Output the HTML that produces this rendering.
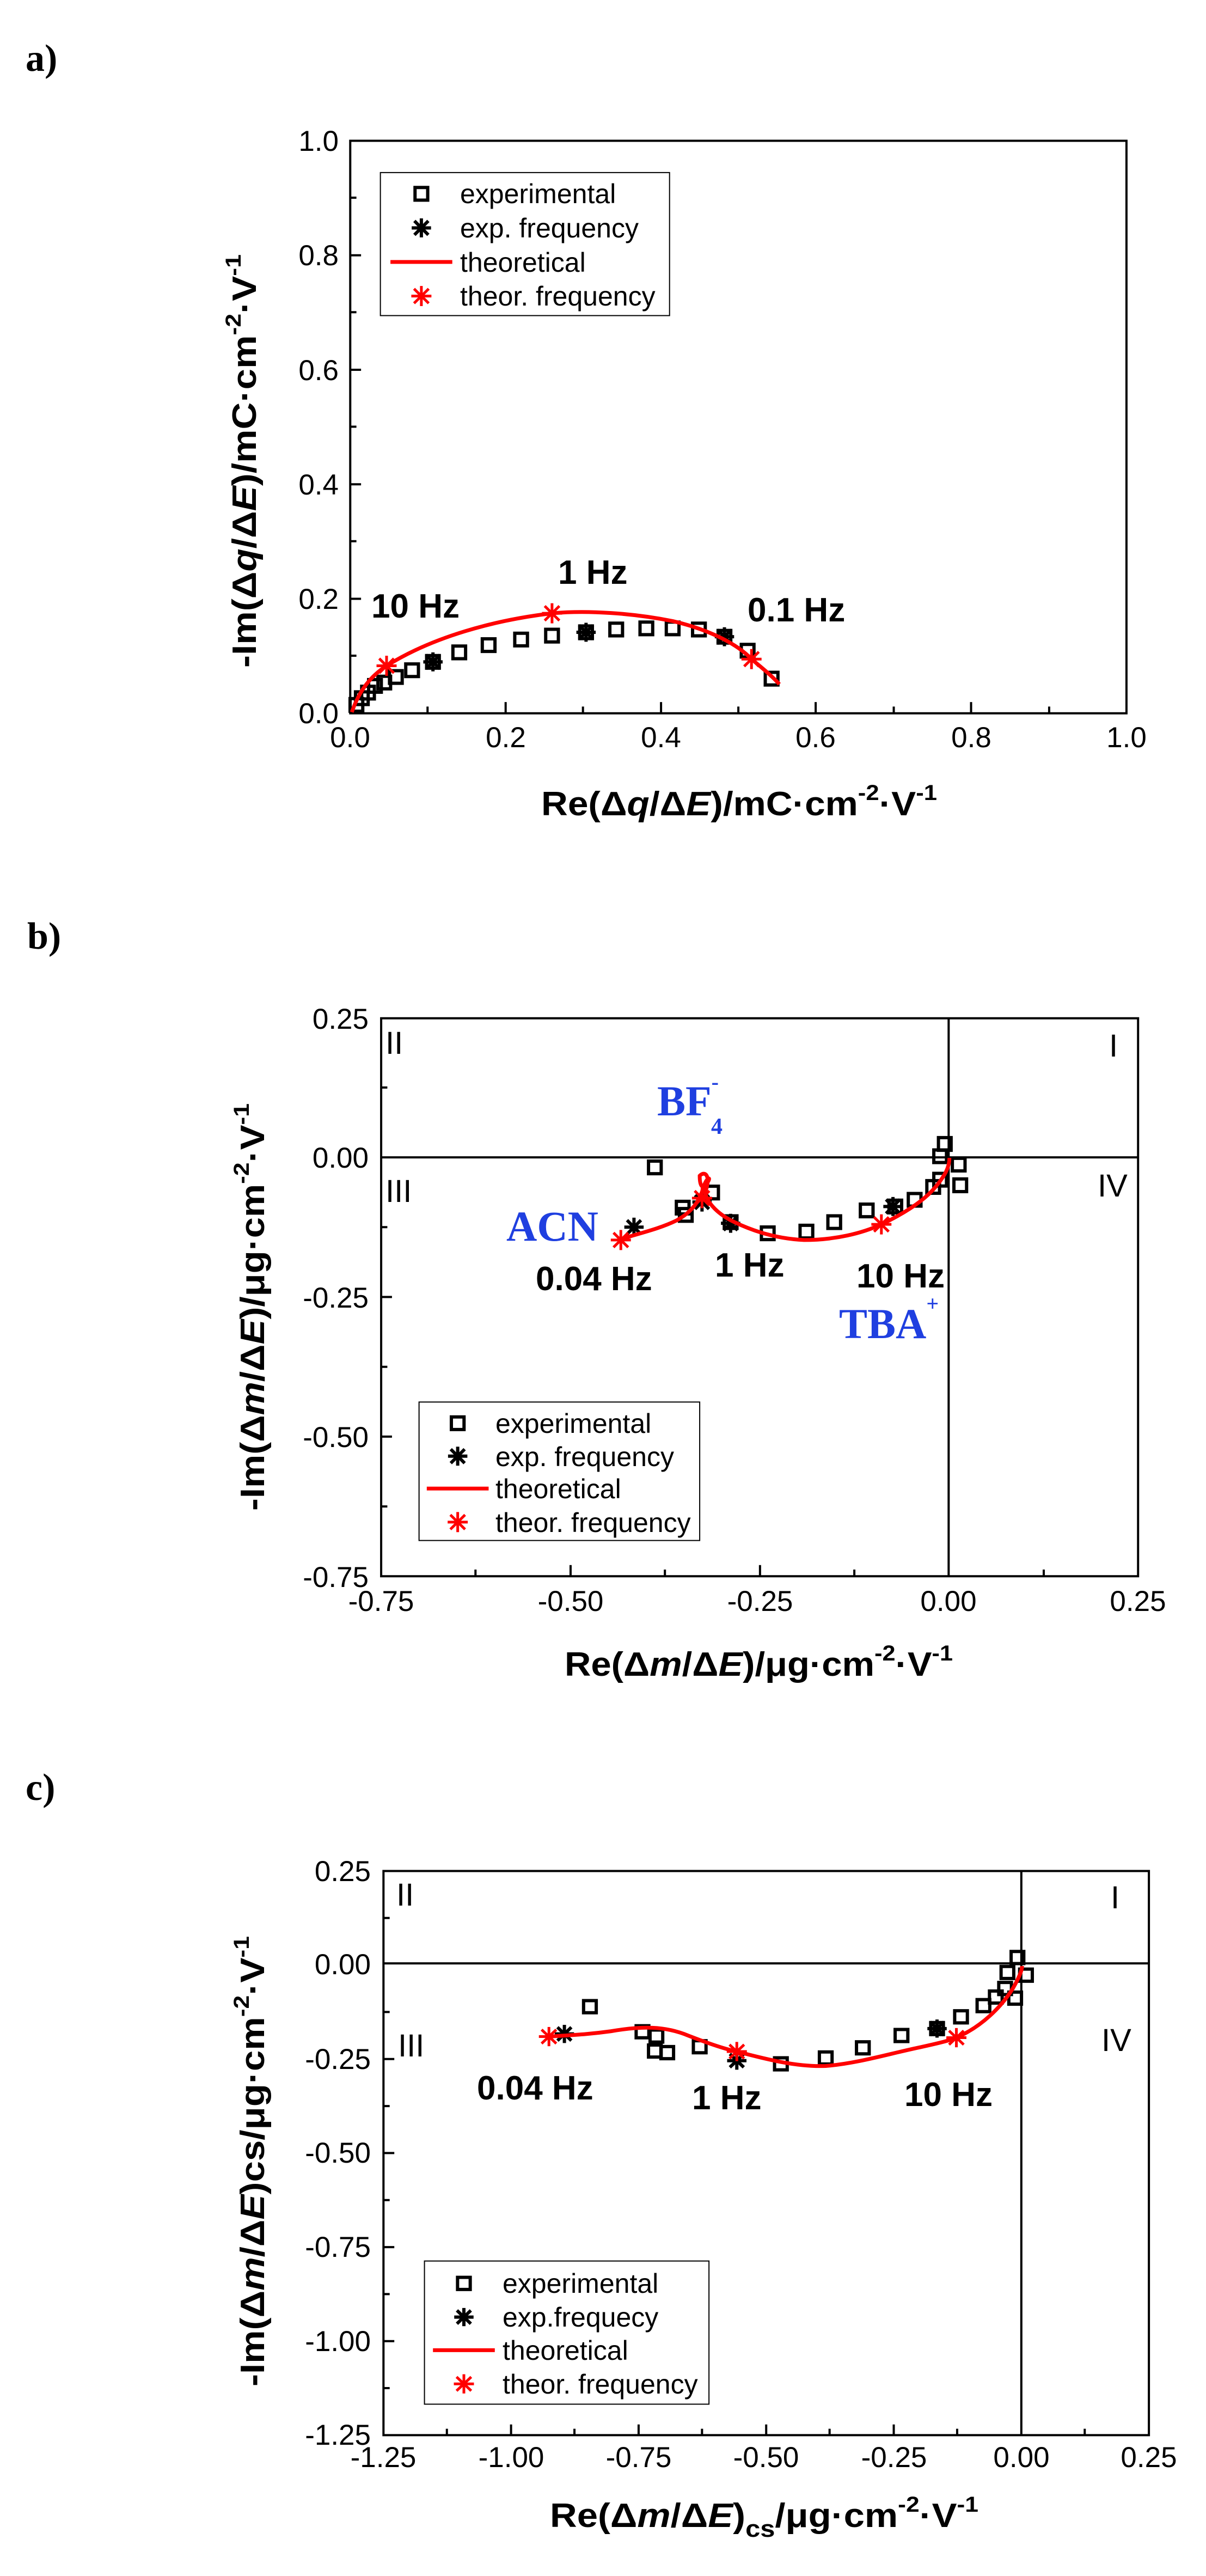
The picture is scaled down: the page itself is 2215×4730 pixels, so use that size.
<!DOCTYPE html>
<html><head><meta charset="utf-8"><style>html,body{margin:0;padding:0;background:#fff;overflow:hidden}svg{display:block}</style></head>
<body>
<svg xmlns="http://www.w3.org/2000/svg" width="2215" height="4730" viewBox="0 0 2215 4730" font-family="Liberation Sans, sans-serif">
<defs>
<g id="sq"><rect x="-8.2" y="-11.3" width="16.4" height="22.6" fill="none" stroke="#000" stroke-width="6" vector-effect="non-scaling-stroke"/></g>
<g id="ak" stroke="#000" stroke-width="6"><line x1="-12.5" y1="0" x2="12.5" y2="0" vector-effect="non-scaling-stroke"/><line x1="0" y1="-17" x2="0" y2="17" vector-effect="non-scaling-stroke"/><line x1="-9" y1="-12.5" x2="9" y2="12.5" vector-effect="non-scaling-stroke"/><line x1="-9" y1="12.5" x2="9" y2="-12.5" vector-effect="non-scaling-stroke"/></g>
<g id="rk" stroke="#f00" stroke-width="5"><line x1="-13" y1="0" x2="13" y2="0" vector-effect="non-scaling-stroke"/><line x1="0" y1="-18" x2="0" y2="18" vector-effect="non-scaling-stroke"/><line x1="-9.5" y1="-13" x2="9.5" y2="13" vector-effect="non-scaling-stroke"/><line x1="-9.5" y1="13" x2="9.5" y2="-13" vector-effect="non-scaling-stroke"/></g>
</defs>
<rect width="2215" height="4730" fill="#fff"/>

<!-- ===== Panel a shapes ===== -->
<g transform="scale(1.42,1.0256)">
<rect x="453" y="252" width="1004" height="1025" fill="none" stroke="#000" stroke-width="4" vector-effect="non-scaling-stroke"/>
<path vector-effect="non-scaling-stroke" stroke="#000" stroke-width="4" d="M654,1277V1257M855,1277V1257M1055,1277V1257M1256,1277V1257M553,1277V1265M754,1277V1265M955,1277V1265M1156,1277V1265M1357,1277V1265M453,457H467M453,662H467M453,867H467M453,1072H467M453,354H461M453,559H461M453,764H461M453,969H461M453,1174H461"/>
<rect x="492" y="309" width="374" height="256" fill="#fff" stroke="#000" stroke-width="2" vector-effect="non-scaling-stroke"/>
<use href="#sq" x="545" y="347"/><use href="#ak" x="545" y="408"/><line x1="505" y1="469" x2="585" y2="469" stroke="#f00" stroke-width="7" vector-effect="non-scaling-stroke"/><use href="#rk" x="545" y="530"/>
<use href="#sq" x="461" y="1262"/><use href="#sq" x="468" y="1250"/><use href="#sq" x="476" y="1240"/><use href="#sq" x="485" y="1228"/><use href="#sq" x="497" y="1222"/><use href="#sq" x="512" y="1212"/><use href="#sq" x="533" y="1200"/><use href="#sq" x="560" y="1185"/><use href="#sq" x="594" y="1168"/><use href="#sq" x="632" y="1155"/><use href="#sq" x="674" y="1145"/><use href="#sq" x="714" y="1138"/><use href="#sq" x="758" y="1132"/><use href="#sq" x="797" y="1127"/><use href="#sq" x="836" y="1125"/><use href="#sq" x="870" y="1125"/><use href="#sq" x="904" y="1127"/><use href="#sq" x="937" y="1140"/><use href="#sq" x="967" y="1165"/><use href="#sq" x="998" y="1215"/>
<use href="#ak" x="560" y="1185"/><use href="#ak" x="758" y="1132"/><use href="#ak" x="937" y="1140"/>
<path d="M455,1275 C465,1235 480,1210 500,1192 C560,1140 640,1110 714,1098 C760,1092 820,1098 870,1112 C920,1128 955,1155 972,1180 C985,1195 1000,1212 1008,1225" fill="none" stroke="#f00" stroke-width="7" vector-effect="non-scaling-stroke"/>
<use href="#rk" x="500" y="1192"/><use href="#rk" x="714" y="1098"/><use href="#rk" x="972" y="1180"/>
</g>
<!-- Panel a text -->
<text x="47" y="130" font-family="Liberation Serif, serif" font-weight="bold" font-size="70">a)</text>
<g font-size="53" text-anchor="middle">
<text x="643" y="1372">0.0</text><text x="929" y="1372">0.2</text><text x="1214" y="1372">0.4</text><text x="1498" y="1372">0.6</text><text x="1784" y="1372">0.8</text><text x="2069" y="1372">1.0</text>
</g>
<g font-size="53" text-anchor="end">
<text x="622" y="277">1.0</text><text x="622" y="487">0.8</text><text x="622" y="698">0.6</text><text x="622" y="908">0.4</text><text x="622" y="1118">0.2</text><text x="622" y="1328">0.0</text>
</g>
<text x="994" y="1497" font-size="62" font-weight="bold" textLength="727" lengthAdjust="spacingAndGlyphs">Re(Δ<tspan font-style="italic">q</tspan>/Δ<tspan font-style="italic">E</tspan>)/mC·cm<tspan font-size="40" dy="-28">-2</tspan><tspan dy="28">·V</tspan><tspan font-size="40" dy="-28">-1</tspan></text>
<text transform="translate(470,1226) rotate(-90)" font-size="62" font-weight="bold" textLength="759" lengthAdjust="spacingAndGlyphs">-Im(Δ<tspan font-style="italic">q</tspan>/Δ<tspan font-style="italic">E</tspan>)/mC·cm<tspan font-size="40" dy="-28">-2</tspan><tspan dy="28">·V</tspan><tspan font-size="40" dy="-28">-1</tspan></text>
<g font-size="50"><text x="845" y="373">experimental</text><text x="845" y="436">exp. frequency</text><text x="845" y="499">theoretical</text><text x="845" y="561">theor. frequency</text></g>
<g font-size="62" font-weight="bold"><text x="682" y="1134">10 Hz</text><text x="1025" y="1072">1 Hz</text><text x="1373" y="1141">0.1 Hz</text></g>

<!-- ===== Panel b shapes ===== -->
<g transform="translate(0,1600) scale(1.42,1.0256)">
<rect x="493" y="263" width="979" height="999" fill="none" stroke="#000" stroke-width="4" vector-effect="non-scaling-stroke"/>
<path vector-effect="non-scaling-stroke" stroke="#000" stroke-width="4" d="M1227,263V1262M493,512H1472M738,1262V1242M983,1262V1242M615,1262V1250M860,1262V1250M1105,1262V1250M1350,1262V1250M493,762H507M493,1012H507M493,387H501M493,637H501M493,887H501M493,1137H501"/>
<rect x="542" y="950" width="363" height="248" fill="#fff" stroke="#000" stroke-width="2" vector-effect="non-scaling-stroke"/>
<use href="#sq" x="592" y="988"/><use href="#ak" x="592" y="1047"/><line x1="552" y1="1105" x2="632" y2="1105" stroke="#f00" stroke-width="7" vector-effect="non-scaling-stroke"/><use href="#rk" x="592" y="1165"/>
<use href="#sq" x="847" y="530"/><use href="#sq" x="883" y="602"/><use href="#sq" x="887" y="615"/><use href="#sq" x="921" y="575"/><use href="#sq" x="945" y="628"/><use href="#sq" x="993" y="648"/><use href="#sq" x="1043" y="645"/><use href="#sq" x="1079" y="628"/><use href="#sq" x="1121" y="607"/><use href="#sq" x="1158" y="600"/><use href="#sq" x="1183" y="588"/><use href="#sq" x="1207" y="565"/><use href="#sq" x="1216" y="552"/><use href="#sq" x="1216" y="510"/><use href="#sq" x="1222" y="488"/><use href="#sq" x="1240" y="525"/><use href="#sq" x="1242" y="562"/>
<use href="#ak" x="820" y="637"/><use href="#ak" x="945" y="630"/><use href="#ak" x="1155" y="600"/><use href="#ak" x="908" y="592"/>
<path d="M800,660 C820,650 850,642 875,625 C895,610 905,590 910,565 C913,550 920,545 916,555 C908,575 905,560 905,545 C912,535 920,545 912,575 C915,595 930,615 950,628 C980,648 1010,658 1040,660 C1080,660 1115,648 1140,632 C1170,612 1195,590 1210,565 C1222,545 1228,530 1228,513" fill="none" stroke="#f00" stroke-width="7" vector-effect="non-scaling-stroke"/>
<use href="#rk" x="803" y="660"/><use href="#rk" x="908" y="585"/><use href="#rk" x="1140" y="632"/>
</g>
<!-- Panel b text -->
<text x="50" y="1742" font-family="Liberation Serif, serif" font-weight="bold" font-size="70">b)</text>
<g font-size="53" text-anchor="middle">
<text x="700" y="2958">-0.75</text><text x="1048" y="2958">-0.50</text><text x="1396" y="2958">-0.25</text><text x="1742" y="2958">0.00</text><text x="2090" y="2958">0.25</text>
</g>
<g font-size="53" text-anchor="end">
<text x="677" y="1889">0.25</text><text x="677" y="2144">0.00</text><text x="677" y="2401">-0.25</text><text x="677" y="2657">-0.50</text><text x="677" y="2914">-0.75</text>
</g>
<g font-size="58"><text x="708" y="1935">II</text><text x="2037" y="1940">I</text><text x="708" y="2207">III</text><text x="2016" y="2197">IV</text></g>
<text x="1037" y="3077" font-size="62" font-weight="bold" textLength="713" lengthAdjust="spacingAndGlyphs">Re(Δ<tspan font-style="italic">m</tspan>/Δ<tspan font-style="italic">E</tspan>)/μg·cm<tspan font-size="40" dy="-28">-2</tspan><tspan dy="28">·V</tspan><tspan font-size="40" dy="-28">-1</tspan></text>
<text transform="translate(485,2774) rotate(-90)" font-size="62" font-weight="bold" textLength="748" lengthAdjust="spacingAndGlyphs">-Im(Δ<tspan font-style="italic">m</tspan>/Δ<tspan font-style="italic">E</tspan>)/μg·cm<tspan font-size="40" dy="-28">-2</tspan><tspan dy="28">·V</tspan><tspan font-size="40" dy="-28">-1</tspan></text>
<g font-size="50"><text x="910" y="2631">experimental</text><text x="910" y="2692">exp. frequency</text><text x="910" y="2751">theoretical</text><text x="910" y="2813">theor. frequency</text></g>
<g font-size="62" font-weight="bold"><text x="984" y="2369">0.04 Hz</text><text x="1313" y="2344">1 Hz</text><text x="1573" y="2364">10 Hz</text></g>
<g font-family="Liberation Serif, serif" font-weight="bold" fill="#1f3fe0" font-size="78">
<text x="1207" y="2048">BF<tspan font-size="40" dy="-48">-</tspan><tspan font-size="42" dx="-14" dy="82">4</tspan></text>
<text x="930" y="2278">ACN</text>
<text x="1541" y="2457">TBA<tspan font-size="40" dy="-50">+</tspan></text>
</g>

<!-- ===== Panel c shapes ===== -->
<g transform="translate(0,3200) scale(1.42,0.981)">
<rect x="496" y="240" width="990" height="1056" fill="none" stroke="#000" stroke-width="4" vector-effect="non-scaling-stroke"/>
<path vector-effect="non-scaling-stroke" stroke="#000" stroke-width="4" d="M1321,240V1296M496,413H1486M661,1296V1276M826,1296V1276M991,1296V1276M1156,1296V1276M578,1296V1284M743,1296V1284M908,1296V1284M1073,1296V1284M1238,1296V1284M1403,1296V1284M496,592H510M496,768H510M496,944H510M496,1120H510M496,328H504M496,504H504M496,680H504M496,856H504M496,1032H504M496,1208H504"/>
<rect x="549" y="970" width="368" height="268" fill="#fff" stroke="#000" stroke-width="2" vector-effect="non-scaling-stroke"/>
<use href="#sq" x="600" y="1012"/><use href="#ak" x="600" y="1075"/><line x1="560" y1="1137" x2="640" y2="1137" stroke="#f00" stroke-width="7" vector-effect="non-scaling-stroke"/><use href="#rk" x="600" y="1200"/>
<use href="#sq" x="763" y="494"/><use href="#sq" x="831" y="541"/><use href="#sq" x="849" y="549"/><use href="#sq" x="847" y="577"/><use href="#sq" x="863" y="580"/><use href="#sq" x="905" y="569"/><use href="#sq" x="1010" y="601"/><use href="#sq" x="1068" y="590"/><use href="#sq" x="1116" y="571"/><use href="#sq" x="1166" y="548"/><use href="#sq" x="1212" y="535"/><use href="#sq" x="1243" y="513"/><use href="#sq" x="1272" y="492"/><use href="#sq" x="1288" y="476"/><use href="#sq" x="1300" y="460"/><use href="#sq" x="1303" y="430"/><use href="#sq" x="1316" y="402"/><use href="#sq" x="1327" y="435"/><use href="#sq" x="1313" y="478"/>
<use href="#ak" x="730" y="545"/><use href="#ak" x="953" y="595"/><use href="#ak" x="1212" y="535"/>
<path d="M710,550 C740,547 760,546 790,540 C830,530 860,530 890,548 C920,565 940,574 953,578 C990,592 1030,607 1068,605 C1110,600 1150,582 1190,570 C1215,562 1230,557 1240,550 C1270,530 1295,495 1310,460 C1318,440 1322,425 1322,418" fill="none" stroke="#f00" stroke-width="7" vector-effect="non-scaling-stroke"/>
<use href="#rk" x="710" y="550"/><use href="#rk" x="953" y="578"/><use href="#rk" x="1237" y="552"/>
</g>
<!-- Panel c text -->
<text x="47" y="3305" font-family="Liberation Serif, serif" font-weight="bold" font-size="70">c)</text>
<g font-size="53" text-anchor="middle">
<text x="704" y="4530">-1.25</text><text x="939" y="4530">-1.00</text><text x="1173" y="4530">-0.75</text><text x="1407" y="4530">-0.50</text><text x="1642" y="4530">-0.25</text><text x="1876" y="4530">0.00</text><text x="2110" y="4530">0.25</text>
</g>
<g font-size="53" text-anchor="end">
<text x="681" y="3454">0.25</text><text x="681" y="3625">0.00</text><text x="681" y="3799">-0.25</text><text x="681" y="3971">-0.50</text><text x="681" y="4144">-0.75</text><text x="681" y="4317">-1.00</text><text x="681" y="4489">-1.25</text>
</g>
<g font-size="58"><text x="728" y="3499">II</text><text x="2040" y="3504">I</text><text x="731" y="3776">III</text><text x="2023" y="3766">IV</text></g>
<text x="1010" y="4640" font-size="62" font-weight="bold" textLength="787" lengthAdjust="spacingAndGlyphs">Re(Δ<tspan font-style="italic">m</tspan>/Δ<tspan font-style="italic">E</tspan>)<tspan font-size="44" dy="18">cs</tspan><tspan dy="-18">/μg·cm</tspan><tspan font-size="40" dy="-28">-2</tspan><tspan dy="28">·V</tspan><tspan font-size="40" dy="-28">-1</tspan></text>
<text transform="translate(485,4382) rotate(-90)" font-size="62" font-weight="bold" textLength="827" lengthAdjust="spacingAndGlyphs">-Im(Δ<tspan font-style="italic">m</tspan>/Δ<tspan font-style="italic">E</tspan>)cs/μg·cm<tspan font-size="40" dy="-28">-2</tspan><tspan dy="28">·V</tspan><tspan font-size="40" dy="-28">-1</tspan></text>
<g font-size="50"><text x="923" y="4210">experimental</text><text x="923" y="4272">exp.frequecy</text><text x="923" y="4333">theoretical</text><text x="923" y="4395">theor. frequency</text></g>
<g font-size="62" font-weight="bold"><text x="876" y="3855">0.04 Hz</text><text x="1271" y="3873">1 Hz</text><text x="1661" y="3867">10 Hz</text></g>
</svg>
</body></html>
